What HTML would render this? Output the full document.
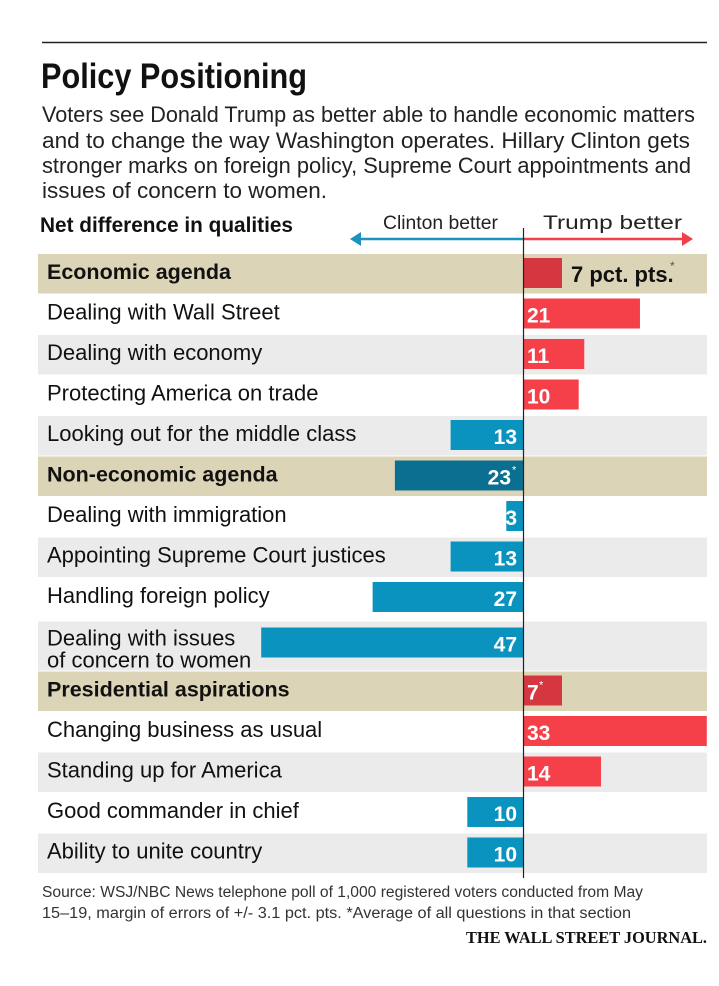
<!DOCTYPE html>
<html><head><meta charset="utf-8"><style>
html,body{margin:0;padding:0;background:#fff;width:719px;height:986px;overflow:hidden}
svg{display:block;font-family:"Liberation Sans Narrow","Liberation Sans",sans-serif}
</style></head><body>
<svg id="chart" width="719" height="986" viewBox="0 0 719 986" xmlns="http://www.w3.org/2000/svg">
<line x1="42" y1="42.5" x2="707" y2="42.5" stroke="#222" stroke-width="1.5"/>
<text x="41" y="88" font-size="35" font-weight="bold" textLength="266" lengthAdjust="spacingAndGlyphs" fill="#111">Policy Positioning</text>
<g font-size="22" fill="#222">
<text x="42" y="122" textLength="653" lengthAdjust="spacingAndGlyphs">Voters see Donald Trump as better able to handle economic matters</text>
<text x="42" y="148" textLength="648" lengthAdjust="spacingAndGlyphs">and to change the way Washington operates. Hillary Clinton gets</text>
<text x="42" y="173" textLength="649" lengthAdjust="spacingAndGlyphs">stronger marks on foreign policy, Supreme Court appointments and</text>
<text x="42" y="198" textLength="285" lengthAdjust="spacingAndGlyphs">issues of concern to women.</text>
</g>
<text x="40" y="232" font-size="21" font-weight="bold" textLength="253" lengthAdjust="spacingAndGlyphs" fill="#111">Net difference in qualities</text>
<text x="383" y="229" font-size="19" textLength="115" lengthAdjust="spacingAndGlyphs" fill="#222">Clinton better</text>
<text x="543" y="229" font-size="19" textLength="139" lengthAdjust="spacingAndGlyphs" fill="#222">Trump better</text>
<g>
<line x1="358" y1="239" x2="523" y2="239" stroke="#1a93bf" stroke-width="2.5"/>
<polygon points="350,239 361,232 361,246" fill="#1a93bf"/>
<line x1="523" y1="239" x2="685" y2="239" stroke="#f0414a" stroke-width="2.5"/>
<polygon points="693,239 682,232 682,246" fill="#f0414a"/>
</g>
<g id="rows"></g>
<line x1="523.5" y1="228" x2="523.5" y2="878" stroke="#222" stroke-width="1.2"/>
<g font-size="15.5" fill="#333">
<text x="42" y="897" textLength="601" lengthAdjust="spacingAndGlyphs">Source: WSJ/NBC News telephone poll of 1,000 registered voters conducted from May</text>
<text x="42" y="918" textLength="589" lengthAdjust="spacingAndGlyphs">15–19, margin of errors of +/- 3.1 pct. pts.   *Average of all questions in that section</text>
</g>
<text x="466" y="943" font-family="Liberation Serif,serif" font-size="17" font-weight="bold" textLength="241" lengthAdjust="spacingAndGlyphs" fill="#111">THE WALL STREET JOURNAL.</text>
</svg>
<script>
const categories = ["Economic agenda","Dealing with Wall Street","Dealing with economy","Protecting America on trade","Looking out for the middle class","Non-economic agenda","Dealing with immigration","Appointing Supreme Court justices","Handling foreign policy","Dealing with issues|of concern to women","Presidential aspirations","Changing business as usual","Standing up for America","Good commander in chief","Ability to unite country"];
const values = [7,21,11,10,-13,-23,-3,-13,-27,-47,7,33,14,-10,-10];
const isSection = [true,false,false,false,false,true,false,false,false,false,true,false,false,false,false];
const valueLabels = ["7 pct. pts.","21","11","10","13","23","3","13","27","47","7","33","14","10","10"];

const NS="http://www.w3.org/2000/svg";
const zeroX=523, pxPerUnit=5.57;
function xScale(v){return zeroX+v*pxPerUnit;}
const rowsG=document.getElementById('rows');
function mk(tag,attrs,parent){const e=document.createElementNS(NS,tag);for(const k in attrs)e.setAttribute(k,attrs[k]);parent.appendChild(e);return e;}
let y=254, grayToggle=false;
categories.forEach((cat,i)=>{
  const multi=cat.includes('|');
  const h=multi?53:40.5;
  const g=mk('g',{},rowsG);
  
  
  let fill;
  if(isSection[i]){fill='#dcd4b6';grayToggle=false;}
  else{fill=grayToggle?'#ebebeb':'#fff';grayToggle=!grayToggle;}
  const bgTop=multi?y+3:y, bgH=multi?h-4:h-1;
  mk('rect',{x:38,y:bgTop,width:669,height:bgH,fill:fill},g);
  const lines=cat.split('|');
  const fs=isSection[i]?21.5:22;
  lines.forEach((ln,k)=>{
    const t=mk('text',{x:47,y:(multi? y+27+k*22 : y+25),'font-size':fs,'font-weight':isSection[i]?'bold':'normal',fill:'#111'},g);
    t.textContent=ln;
  });
  const v=values[i];
  const x0=Math.min(xScale(0),xScale(v)), w=Math.abs(xScale(v)-xScale(0));
  const pos=v>0;
  const color=isSection[i]?(pos?'#d6363f':'#0b6f91'):(pos?'#f5404a':'#0a93bf');
  const barTop=multi?y+9:y+4, barH=30;
  const bar=mk('rect',{x:x0,y:barTop,width:w,height:barH,fill:color},g);
  
  
  const lbl=valueLabels[i];
  const ty=barTop+24;
  if(i===0){
    const t=mk('text',{x:xScale(v)+9,y:ty,'font-size':22,'font-weight':'bold',fill:'#111'},g);
    t.textContent=lbl;
    
    
    const s=mk('text',{x:xScale(v)+108,y:ty-12,'font-size':12,fill:'#555'},g);s.textContent='*';
  } else {
    const t=mk('text',{x:pos?zeroX+4:zeroX-6,y:ty,'font-size':21,'font-weight':'bold',fill:'#fff','text-anchor':pos?'start':'end'},g);
    t.textContent=lbl;
    
    
    if(isSection[i]){
      const sx=pos?zeroX+4+(lbl.length*12):zeroX-11;
      if(!pos){t.setAttribute('x',zeroX-12);}
      const s=mk('text',{x:sx,y:ty-11,'font-size':11,fill:'#fff'},g);s.textContent='*';
    }
  }
  y+=h;
});
</script>
</body></html>
